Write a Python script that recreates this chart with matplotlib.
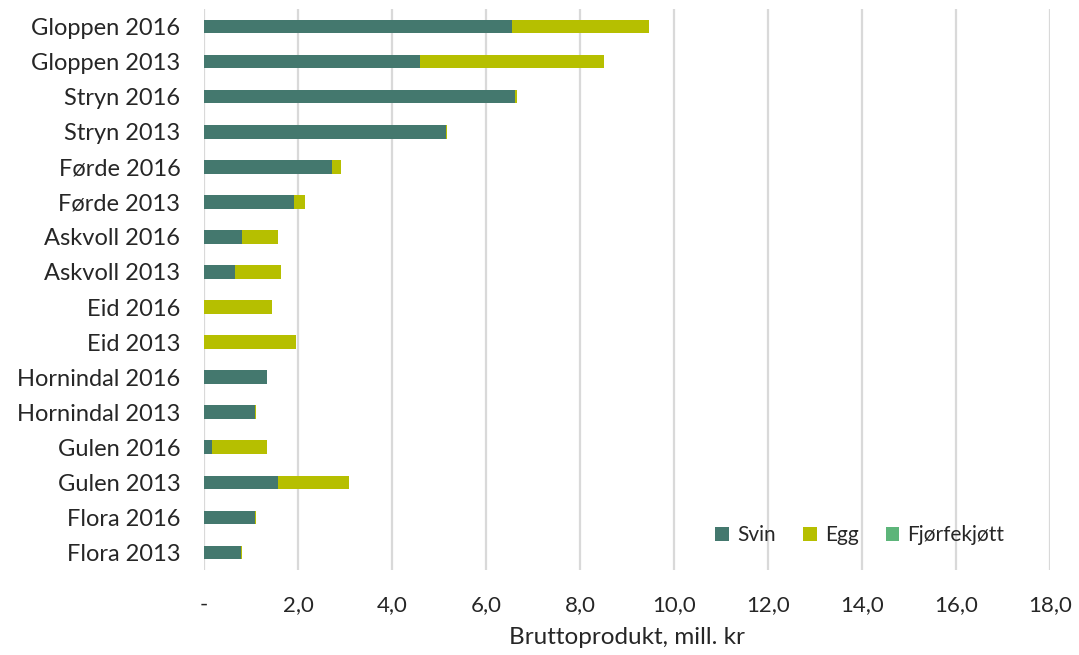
import matplotlib
matplotlib.use("Agg")
import matplotlib.pyplot as plt
import numpy as np

categories = ["Gloppen 2016", "Gloppen 2013", "Stryn 2016", "Stryn 2013",
              "Førde 2016", "Førde 2013", "Askvoll 2016", "Askvoll 2013",
              "Eid 2016", "Eid 2013", "Hornindal 2016", "Hornindal 2013",
              "Gulen 2016", "Gulen 2013", "Flora 2016", "Flora 2013"]
svin = [6.56, 4.60, 6.62, 5.14, 2.72, 1.92, 0.81, 0.67,
        0.0, 0.0, 1.33, 1.09, 0.16, 1.57, 1.09, 0.79]
egg = [2.91, 3.90, 0.03, 0.02, 0.19, 0.22, 0.76, 0.97,
       1.45, 1.95, 0.02, 0.02, 1.17, 1.52, 0.02, 0.02]
fjorfe = [0.0] * 16
series_names = ["Svin", "Egg", "Fjørfekjøtt"]
xticks = [0, 2, 4, 6, 8, 10, 12, 14, 16, 18]
xticklabels = ["-", "2,0", "4,0", "6,0", "8,0", "10,0", "12,0", "14,0", "16,0", "18,0"]

plt.rcParams['font.family'] = ['Lato', 'DejaVu Sans']
colors = ["#44786E", "#B6BF00", "#5DB57A"]
text_color = "#262626"

fig = plt.figure(figsize=(10.79, 6.55), dpi=100)
ax = fig.add_axes([204/1079, 1 - 570/655, (1050-204)/1079, (570-9)/655])

y = np.arange(len(categories))
h = 0.39
left = np.zeros(len(categories))
for vals, name, c in zip([svin, egg, fjorfe], series_names, colors):
    ax.barh(y, vals, height=h, left=left, color=c, label=name, zorder=3)
    left = left + np.array(vals)

ax.set_ylim(len(categories) - 0.5, -0.5)
ax.set_yticks(y)
ax.set_yticklabels(categories, fontsize=17, color=text_color)
ax.set_xlim(0, 18)
ax.set_xticks(xticks)
ax.set_xticklabels(xticklabels, fontsize=16, color=text_color)
ax.tick_params(axis='both', length=0)
ax.tick_params(axis='y', pad=17)
ax.tick_params(axis='x', pad=18)
ax.grid(axis='x', color="#D9D9D9", linewidth=1.6, zorder=0)
for s in ax.spines.values():
    s.set_visible(False)
ax.set_xlabel("Bruttoprodukt, mill. kr", fontsize=17.5, color=text_color, labelpad=9)

leg = ax.legend(loc='center', bbox_to_anchor=((860-204)/(1050-204), (570-535)/(570-9)),
                ncol=3, frameon=False, fontsize=15, handlelength=0.65, handleheight=0.65,
                handletextpad=0.4, columnspacing=1.3, labelcolor=text_color)

fig.savefig("out.png", dpi=100)
